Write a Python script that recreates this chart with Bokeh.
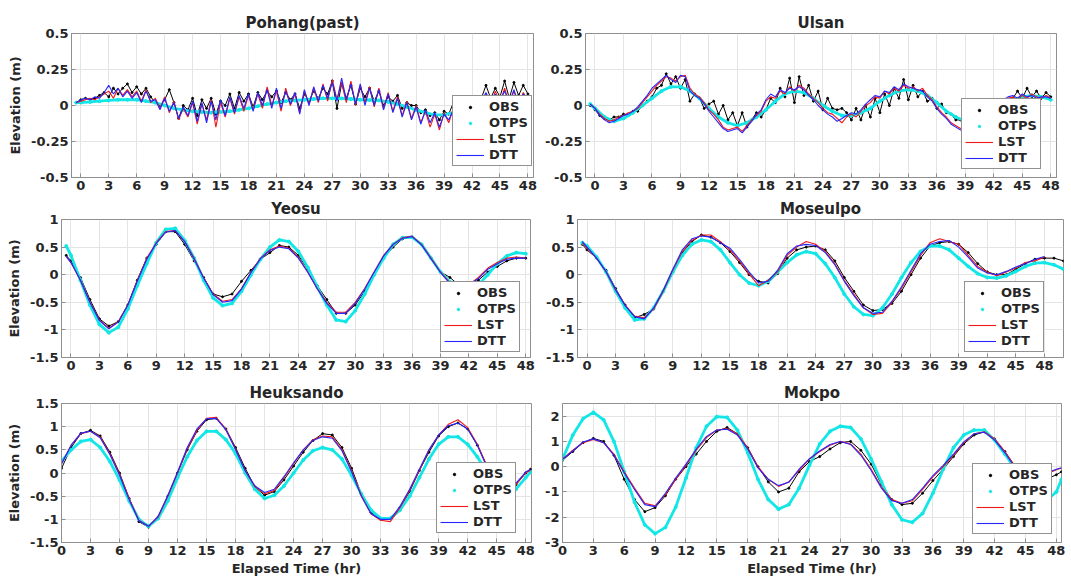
import numpy as np
from bokeh.plotting import figure
from bokeh.models import Range1d, FixedTicker, Legend, LegendItem, CustomJSTickFormatter
from bokeh.layouts import column, row
from bokeh.embed import file_html
from bokeh.resources import INLINE

# ---------------- time axes (hours) ----------------
t_half = [-0.5 + 0.5 * i for i in range(98)]          # -0.5 .. 48 by 0.5
t_hour_neg = [-0.5] + list(range(49))                  # -0.5, 0 .. 48
t_hour_neg50 = [-0.5] + list(range(51))                # -0.5, 0 .. 50
t_hour_end = list(range(49)) + [48.5]                  # 0 .. 48, 48.5

x_ticks = list(range(0, 49, 3))

# ---------------- Pohang(past) ----------------
pohang_obs = [0.02, 0.04, 0.05, 0.04, 0.05, 0.07, 0.09, 0.06, 0.12, 0.08,
              0.12, 0.15, 0.09, 0.13, 0.08, 0.12, 0.06, 0.02, 0.00, 0.04,
              0.11, 0.02, -0.09, 0.00, -0.03, 0.05, -0.07, 0.04, -0.02, 0.05,
              -0.06, 0.03, 0.00, 0.08, -0.02, 0.09, 0.03, 0.08, -0.01, 0.09,
              0.04, 0.10, 0.06, 0.10, 0.02, 0.09, 0.04, 0.08, -0.02, 0.08,
              0.03, 0.10, 0.05, 0.12, 0.08, 0.17, -0.02, 0.15, 0.05, 0.14,
              0.01, 0.12, 0.06, 0.12, 0.03, 0.10, 0.00, 0.06, 0.03, 0.07,
              -0.02, 0.02, 0.00, 0.00, -0.05, -0.03, -0.07, -0.05, -0.10, -0.04,
              -0.06, 0.02, 0.04, 0.03, 0.05, 0.04, 0.06, 0.05, 0.14, 0.05,
              0.12, 0.06, 0.17, 0.05, 0.16, 0.07, 0.14, 0.08]
pohang_otps = [0.02, 0.02, 0.025, 0.03, 0.035, 0.04, 0.04, 0.04, 0.03, 0.02,
               0.0, -0.02, -0.03, -0.04, -0.045, -0.05, -0.045, -0.04, -0.03, -0.02,
               -0.005, 0.01, 0.02, 0.03, 0.035, 0.04, 0.045, 0.05, 0.05, 0.05,
               0.045, 0.04, 0.038, 0.035, 0.025, 0.01, -0.01, -0.03, -0.05, -0.065,
               -0.065, -0.05, -0.03, -0.01, 0.01, 0.025, 0.035, 0.04, 0.04, 0.04]
pohang_lst = [0.02, 0.03, 0.04, 0.05, 0.04, 0.06, 0.08, 0.10, 0.05, 0.12,
              0.07, 0.11, 0.06, 0.10, 0.03, 0.11, 0.02, 0.05, -0.02, 0.06,
              -0.05, 0.03, -0.10, -0.02, -0.08, 0.02, -0.13, 0.01, -0.10, 0.04,
              -0.15, 0.02, -0.08, 0.05, -0.06, 0.06, -0.04, 0.07, -0.03, 0.08,
              -0.02, 0.13, 0.00, 0.10, -0.04, 0.12, 0.00, 0.08, -0.05, 0.10,
              0.01, 0.12, 0.02, 0.15, 0.03, 0.18, 0.04, 0.16, 0.02, 0.17,
              0.00, 0.14, 0.02, 0.13, -0.01, 0.12, -0.02, 0.09, -0.04, 0.06,
              -0.07, 0.03, -0.09, 0.00, -0.12, -0.04, -0.15, -0.06, -0.17, -0.05,
              -0.12, -0.02, 0.02, 0.00, 0.05, 0.01, 0.06, 0.02, 0.08, 0.00,
              0.10, 0.02, 0.12, 0.01, 0.10, 0.00, 0.09, 0.04]
pohang_dtt = [0.02, 0.04, 0.05, 0.04, 0.06, 0.05, 0.09, 0.14, 0.08, 0.12,
              0.06, 0.10, 0.05, 0.09, 0.02, 0.10, 0.03, 0.04, -0.03, 0.05,
              -0.04, 0.02, -0.09, -0.01, -0.07, 0.03, -0.11, 0.02, -0.12, 0.03,
              -0.10, 0.04, -0.07, 0.06, -0.05, 0.07, -0.02, 0.08, -0.04, 0.09,
              0.00, 0.11, -0.02, 0.12, -0.02, 0.10, 0.01, 0.09, -0.06, 0.11,
              0.00, 0.13, 0.03, 0.14, 0.05, 0.16, 0.03, 0.19, 0.04, 0.15,
              0.01, 0.15, 0.00, 0.12, 0.00, 0.11, -0.03, 0.08, -0.05, 0.05,
              -0.08, 0.02, -0.10, -0.01, -0.13, -0.03, -0.12, -0.05, -0.15, -0.06,
              -0.10, -0.03, 0.03, 0.01, 0.06, 0.00, 0.07, 0.03, 0.09, 0.02,
              0.08, 0.03, 0.10, 0.02, 0.11, 0.01, 0.08, 0.05]

# ---------------- Ulsan ----------------
ulsan_obs = [0.00, -0.03, -0.07, -0.09, -0.10, -0.08, -0.08, -0.06, -0.07, -0.04,
             -0.04, 0.00, 0.03, 0.06, 0.12, 0.14, 0.22, 0.15, 0.20, 0.12,
             0.18, 0.03, 0.08, 0.05, -0.02, 0.01, 0.03, -0.06, 0.00, -0.10,
             -0.05, -0.14, -0.05, -0.15, -0.10, -0.05, -0.08, -0.03, 0.05, 0.02,
             0.12, 0.06, 0.19, 0.02, 0.20, 0.07, 0.14, 0.03, 0.10, -0.03,
             0.05, -0.02, -0.03, -0.02, -0.05, -0.10, -0.02, -0.10, 0.00, -0.08,
             0.05, -0.05, 0.08, 0.00, 0.12, 0.05, 0.18, 0.04, 0.14, 0.06,
             0.10, 0.03, 0.05, -0.02, 0.01, -0.05, -0.06, -0.10, -0.10, -0.14,
             -0.15, -0.10, -0.08, -0.05, -0.04, -0.02, 0.00, 0.02, 0.04, 0.05,
             0.10, 0.05, 0.12, 0.06, 0.10, 0.05, 0.09, 0.06]
ulsan_otps = [0.01, -0.02, -0.08, -0.11, -0.09, -0.05, 0.00, 0.05, 0.10, 0.13,
              0.13, 0.10, 0.05, -0.02, -0.08, -0.12, -0.14, -0.12, -0.08, -0.03,
              0.03, 0.08, 0.10, 0.09, 0.05, 0.00, -0.04, -0.07, -0.07, -0.05,
              -0.02, 0.03, 0.07, 0.10, 0.11, 0.10, 0.07, 0.02, -0.04, -0.08,
              -0.11, -0.10, -0.07, -0.03, 0.01, 0.04, 0.06, 0.07, 0.06, 0.04]
ulsan_lst = [0.01, -0.02, -0.06, -0.09, -0.11, -0.10, -0.08, -0.07, -0.05, -0.04,
             -0.02, 0.02, 0.06, 0.10, 0.14, 0.17, 0.20, 0.19, 0.17, 0.20,
             0.21, 0.12, 0.08, 0.06, 0.02, -0.03, -0.06, -0.10, -0.15, -0.17,
             -0.16, -0.15, -0.18, -0.14, -0.10, -0.07, -0.04, 0.03, 0.06, 0.05,
             0.10, 0.08, 0.13, 0.10, 0.14, 0.12, 0.08, 0.05, 0.02, -0.02,
             -0.05, -0.06, -0.09, -0.12, -0.08, -0.06, -0.08, -0.04, 0.00, 0.02,
             0.06, 0.05, 0.10, 0.08, 0.12, 0.10, 0.14, 0.12, 0.13, 0.10,
             0.12, 0.07, 0.04, -0.01, -0.05, -0.08, -0.12, -0.14, -0.16, -0.17,
             -0.18, -0.13, -0.10, -0.07, -0.04, -0.01, 0.02, 0.03, 0.05, 0.06,
             0.04, 0.07, 0.05, 0.08, 0.06, 0.05, 0.07, 0.05]
ulsan_dtt = [0.01, -0.02, -0.07, -0.10, -0.12, -0.11, -0.09, -0.07, -0.06, -0.04,
             -0.01, 0.03, 0.07, 0.12, 0.15, 0.18, 0.21, 0.18, 0.16, 0.21,
             0.20, 0.10, 0.07, 0.05, 0.01, -0.04, -0.08, -0.12, -0.16, -0.18,
             -0.17, -0.16, -0.19, -0.15, -0.11, -0.06, -0.03, 0.04, 0.08, 0.06,
             0.11, 0.09, 0.12, 0.11, 0.13, 0.11, 0.07, 0.04, 0.00, -0.03,
             -0.06, -0.08, -0.11, -0.09, -0.07, -0.05, -0.06, -0.03, 0.01, 0.04,
             0.07, 0.06, 0.10, 0.09, 0.13, 0.11, 0.15, 0.13, 0.12, 0.11,
             0.10, 0.06, 0.03, -0.02, -0.06, -0.09, -0.13, -0.15, -0.17, -0.18,
             -0.19, -0.14, -0.10, -0.06, -0.03, 0.00, 0.03, 0.04, 0.06, 0.07,
             0.05, 0.08, 0.06, 0.07, 0.05, 0.06, 0.06, 0.05]

# ---------------- Yeosu ----------------
yeosu_obs = [0.35, 0.25, -0.05, -0.45, -0.8, -0.93, -0.85, -0.55, -0.1, 0.3,
             0.55, 0.78, 0.78, 0.55, 0.25, -0.05, -0.35, -0.4, -0.35, -0.12,
             0.08, 0.28, 0.4, 0.53, 0.5, 0.35, 0.1, -0.2, -0.45, -0.7,
             -0.7, -0.55, -0.3, 0.0, 0.3, 0.5, 0.65, 0.68, 0.55, 0.3,
             0.05, -0.05, -0.2, -0.2, -0.1, 0.05, 0.15, 0.25, 0.3, 0.3]
yeosu_otps = [0.52, 0.35, -0.1, -0.55, -0.9, -1.05, -0.95, -0.62, -0.2, 0.2,
              0.58, 0.82, 0.84, 0.62, 0.3, -0.1, -0.42, -0.56, -0.52, -0.3,
              0.0, 0.28, 0.5, 0.63, 0.6, 0.42, 0.13, -0.22, -0.55, -0.82,
              -0.85, -0.65, -0.35, 0.0, 0.3, 0.55, 0.67, 0.68, 0.55, 0.3,
              0.05, -0.13, -0.25, -0.28, -0.18, 0.0, 0.2, 0.34, 0.4, 0.38]
yeosu_lst = [0.33, 0.22, -0.1, -0.5, -0.82, -0.97, -0.85, -0.55, -0.1, 0.3,
             0.58, 0.78, 0.8, 0.6, 0.3, -0.05, -0.35, -0.48, -0.45, -0.25,
             0.05, 0.3, 0.45, 0.52, 0.48, 0.32, 0.05, -0.25, -0.5, -0.68,
             -0.68, -0.5, -0.25, 0.05, 0.35, 0.55, 0.67, 0.7, 0.55, 0.3,
             0.05, -0.15, -0.22, -0.18, -0.05, 0.12, 0.22, 0.3, 0.32, 0.3]
yeosu_dtt = [0.33, 0.22, -0.1, -0.5, -0.83, -0.98, -0.86, -0.55, -0.12, 0.28,
             0.57, 0.77, 0.8, 0.6, 0.28, -0.06, -0.36, -0.5, -0.47, -0.26,
             0.04, 0.29, 0.44, 0.5, 0.47, 0.3, 0.04, -0.26, -0.52, -0.7,
             -0.7, -0.52, -0.26, 0.05, 0.34, 0.55, 0.66, 0.69, 0.54, 0.29,
             0.04, -0.16, -0.23, -0.19, -0.07, 0.1, 0.2, 0.28, 0.3, 0.3]

# ---------------- Moseulpo ----------------
moseulpo_obs = [0.55, 0.45, 0.3, 0.08, -0.25, -0.55, -0.78, -0.72, -0.62, -0.3,
                0.05, 0.4, 0.6, 0.72, 0.68, 0.58, 0.42, 0.22, 0.0, -0.12,
                -0.15, 0.02, 0.3, 0.45, 0.5, 0.52, 0.45, 0.25, -0.05, -0.3,
                -0.55, -0.65, -0.63, -0.52, -0.3, 0.0, 0.3, 0.52, 0.58, 0.6,
                0.55, 0.4, 0.2, 0.05, 0.0, 0.0, 0.1, 0.2, 0.28, 0.3,
                0.3, 0.25]
moseulpo_otps = [0.58, 0.52, 0.32, 0.05, -0.3, -0.6, -0.82, -0.8, -0.6, -0.3,
                 0.05, 0.35, 0.55, 0.63, 0.6, 0.45, 0.22, 0.0, -0.15, -0.2,
                 -0.12, 0.05, 0.22, 0.36, 0.42, 0.38, 0.2, -0.05, -0.35, -0.58,
                 -0.72, -0.74, -0.6, -0.35, -0.05, 0.22, 0.42, 0.52, 0.52, 0.45,
                 0.3, 0.15, 0.02, -0.05, -0.06, -0.02, 0.06, 0.15, 0.21, 0.22,
                 0.18, 0.1]
moseulpo_lst = [0.58, 0.48, 0.3, 0.05, -0.28, -0.55, -0.75, -0.78, -0.62, -0.3,
                0.08, 0.42, 0.62, 0.72, 0.72, 0.6, 0.45, 0.25, 0.02, -0.2,
                -0.1, 0.05, 0.35, 0.5, 0.6, 0.55, 0.42, 0.2, -0.1, -0.35,
                -0.6, -0.72, -0.7, -0.5, -0.25, 0.05, 0.35, 0.58, 0.65, 0.6,
                0.55, 0.35, 0.15, 0.05, -0.02, 0.05, 0.12, 0.22, 0.25, 0.32]
moseulpo_dtt = [0.6, 0.5, 0.3, 0.06, -0.27, -0.56, -0.76, -0.8, -0.6, -0.28,
                0.1, 0.45, 0.65, 0.7, 0.68, 0.58, 0.48, 0.28, 0.05, -0.15,
                -0.12, 0.08, 0.38, 0.52, 0.55, 0.53, 0.4, 0.18, -0.12, -0.38,
                -0.6, -0.7, -0.68, -0.48, -0.22, 0.08, 0.38, 0.55, 0.6, 0.62,
                0.5, 0.32, 0.12, 0.03, 0.0, 0.06, 0.14, 0.2, 0.28, 0.33]

# ---------------- Heuksando ----------------
heuksando_obs = [0.1, 0.55, 0.85, 0.92, 0.8, 0.45, 0.0, -0.55, -1.05, -1.17,
                 -0.95, -0.5, 0.0, 0.5, 0.9, 1.15, 1.18, 0.95, 0.55, 0.1,
                 -0.3, -0.48, -0.4, -0.15, 0.15, 0.45, 0.7, 0.85, 0.82, 0.55,
                 0.1, -0.45, -0.85, -1.0, -0.98, -0.75, -0.4, 0.05, 0.45, 0.8,
                 1.0, 1.08, 0.95, 0.6, 0.15, -0.2, -0.4, -0.25, 0.0, 0.08]
heuksando_otps = [0.25, 0.5, 0.68, 0.72, 0.55, 0.25, -0.15, -0.6, -1.0, -1.15,
                  -0.98, -0.6, -0.1, 0.35, 0.7, 0.9, 0.9, 0.72, 0.42, 0.0,
                  -0.35, -0.55, -0.48, -0.28, 0.0, 0.28, 0.48, 0.55, 0.5, 0.3,
                  -0.05, -0.45, -0.8, -0.98, -0.98, -0.8, -0.5, -0.1, 0.3, 0.62,
                  0.78, 0.78, 0.62, 0.35, 0.0, -0.35, -0.5, -0.35, -0.1, 0.02]
heuksando_lst = [0.2, 0.6, 0.85, 0.9, 0.78, 0.42, -0.02, -0.55, -1.02, -1.15,
                 -0.95, -0.5, 0.0, 0.52, 0.92, 1.18, 1.2, 0.95, 0.52, 0.05,
                 -0.3, -0.45, -0.38, -0.1, 0.2, 0.5, 0.72, 0.8, 0.78, 0.5,
                 0.05, -0.48, -0.88, -1.02, -1.05, -0.75, -0.38, 0.05, 0.5, 0.82,
                 1.05, 1.15, 0.98, 0.62, 0.15, -0.2, -0.38, -0.25, 0.0, 0.06]
heuksando_dtt = [0.2, 0.6, 0.86, 0.9, 0.76, 0.4, -0.05, -0.58, -1.03, -1.15,
                 -0.93, -0.48, 0.02, 0.55, 0.95, 1.17, 1.18, 0.93, 0.5, 0.05,
                 -0.28, -0.42, -0.35, -0.08, 0.22, 0.5, 0.7, 0.78, 0.75, 0.48,
                 0.02, -0.5, -0.88, -1.0, -1.0, -0.72, -0.35, 0.08, 0.5, 0.82,
                 1.02, 1.08, 0.95, 0.6, 0.12, -0.22, -0.38, -0.22, 0.02, 0.08]

# ---------------- Mokpo ----------------
mokpo_obs = [0.25, 0.6, 0.95, 1.12, 1.0, 0.45, -0.5, -1.3, -1.78, -1.62,
             -1.15, -0.5, 0.0, 0.5, 1.0, 1.4, 1.55, 1.3, 0.75, 0.0,
             -0.6, -1.0, -0.85, -0.2, 0.2, 0.4, 0.7, 0.95, 1.0, 0.65,
             0.1, -0.7, -1.3, -1.5, -1.45, -1.05, -0.55, -0.1, 0.4, 0.9,
             1.25, 1.38, 1.1, 0.6, 0.0, -0.5, -0.7, -0.5, -0.32, -0.2]
mokpo_otps = [0.3, 1.25, 1.9, 2.15, 1.85, 1.0, -0.2, -1.4, -2.3, -2.65,
              -2.4, -1.6, -0.45, 0.75, 1.6, 1.98, 1.95, 1.45, 0.55, -0.5,
              -1.3, -1.68, -1.5, -0.85, 0.05, 0.9, 1.4, 1.6, 1.55, 1.1,
              0.3, -0.6, -1.5, -2.1, -2.2, -1.85, -1.05, -0.1, 0.75, 1.25,
              1.45, 1.45, 1.05, 0.5, -0.1, -0.8, -1.3, -1.35, -1.0, -0.5]
mokpo_lst = [0.3, 0.65, 0.95, 1.08, 0.95, 0.5, -0.2, -0.85, -1.45, -1.55,
             -1.1, -0.5, 0.05, 0.65, 1.15, 1.45, 1.5, 1.3, 0.75, 0.0,
             -0.5, -0.78, -0.6, -0.15, 0.3, 0.6, 0.85, 1.0, 0.9, 0.5,
             -0.1, -0.8, -1.3, -1.45, -1.35, -0.9, -0.4, 0.0, 0.45, 0.95,
             1.3, 1.38, 1.1, 0.6, 0.0, -0.45, -0.55, -0.3, -0.12, -0.05]
mokpo_dtt = [0.3, 0.62, 0.98, 1.1, 0.95, 0.45, -0.25, -0.9, -1.5, -1.58,
             -1.05, -0.45, 0.1, 0.7, 1.2, 1.45, 1.48, 1.25, 0.7, -0.05,
             -0.5, -0.75, -0.62, -0.1, 0.32, 0.62, 0.88, 1.0, 0.88, 0.45,
             -0.15, -0.85, -1.35, -1.45, -1.3, -0.85, -0.35, 0.05, 0.5, 0.98,
             1.3, 1.36, 1.05, 0.55, -0.05, -0.45, -0.5, -0.25, -0.1, -0.04]

# ---------------- styling ----------------
FONT = "DejaVu Sans"
TXT = "#262626"
FRAME = "#8f8f8f"
GRID = "#e4e4e4"
C_OBS = "#000000"
C_OTPS = "#12e6e6"
C_LST = "#f01818"
C_DTT = "#2626ff"
FMT = "return tick.toString();"


def xy(t, v):
    n = min(len(t), len(v))
    return list(t[:n]), list(v[:n])


def panel(title, xr, yr, yticks, size, borders, obs, otps, lst, dtt,
          legend_right, legend_bottom, ylabel=False, xlabel=False):
    w, h = size
    left, right, top, bottom = borders
    p = figure(width=w, height=h, output_backend="svg", toolbar_location=None,
               x_range=Range1d(*xr), y_range=Range1d(*yr),
               min_border_left=left, min_border_right=right,
               min_border_top=top, min_border_bottom=bottom)
    p.title.text = title
    p.title.align = "center"
    p.title.text_font = FONT
    p.title.text_font_size = "15px"
    p.title.text_font_style = "bold"
    p.title.text_color = TXT
    p.title.standoff = 3
    p.title.offset = 0
    p.outline_line_color = FRAME
    p.outline_line_width = 1
    p.background_fill_color = "white"
    p.border_fill_color = "white"

    for ax in (p.xaxis[0], p.yaxis[0]):
        ax.major_label_text_font = FONT
        ax.major_label_text_font_size = "13px"
        ax.major_label_text_font_style = "bold"
        ax.major_label_text_color = TXT
        ax.major_tick_in = 4
        ax.major_tick_out = 0
        ax.major_tick_line_color = FRAME
        ax.minor_tick_line_color = None
        ax.axis_line_color = FRAME
        ax.major_label_standoff = 3
        ax.formatter = CustomJSTickFormatter(code=FMT)
        ax.axis_label_text_font = FONT
        ax.axis_label_text_font_size = "13px"
        ax.axis_label_text_font_style = "bold"
        ax.axis_label_text_color = TXT
    p.xaxis[0].ticker = FixedTicker(ticks=x_ticks)
    p.yaxis[0].ticker = FixedTicker(ticks=yticks)
    if ylabel:
        p.yaxis[0].axis_label = "Elevation (m)"
        p.yaxis[0].axis_label_standoff = 5
    if xlabel:
        p.xaxis[0].axis_label = "Elapsed Time (hr)"
        p.xaxis[0].axis_label_standoff = 3
    p.xgrid.grid_line_color = GRID
    p.ygrid.grid_line_color = GRID
    p.xgrid.ticker = FixedTicker(ticks=x_ticks)
    p.ygrid.ticker = FixedTicker(ticks=yticks)

    ox, oy = xy(*obs)
    p.line(ox, oy, line_color=C_OBS, line_width=1.0)
    r_obs = p.scatter(ox, oy, size=2, color=C_OBS)
    tx, ty = xy(*otps)
    p.line(tx, ty, line_color=C_OTPS, line_width=2.8)
    r_otps = p.scatter(tx, ty, size=3, color=C_OTPS)
    lx, ly = xy(*lst)
    r_lst = p.line(lx, ly, line_color=C_LST, line_width=1.1)
    dx, dy = xy(*dtt)
    r_dtt = p.line(dx, dy, line_color=C_DTT, line_width=1.1)

    leg = Legend(items=[LegendItem(label="OBS", renderers=[r_obs]),
                        LegendItem(label="OTPS", renderers=[r_otps]),
                        LegendItem(label="LST", renderers=[r_lst]),
                        LegendItem(label="DTT", renderers=[r_dtt])])
    leg.label_text_font = FONT
    leg.label_text_font_size = "13px"
    leg.label_text_font_style = "bold"
    leg.label_text_color = TXT
    leg.label_height = 12
    leg.glyph_height = 6
    leg.glyph_width = 28
    leg.spacing = 1
    leg.padding = 3
    leg.margin = 0
    leg.label_standoff = 5
    leg.border_line_color = TXT
    leg.border_line_width = 1
    leg.background_fill_color = "white"
    leg.background_fill_alpha = 1.0
    fw = w - left - right
    leg_w = 76
    leg.location = (fw - legend_right - leg_w, legend_bottom)
    p.add_layout(leg)
    return p


p1 = panel("Pohang(past)", (-1, 48.6), (-0.5, 0.5), [-0.5, -0.25, 0, 0.25, 0.5],
           (540, 196), (71, 7, 31, 19),
           (t_half, pohang_obs), (t_hour_neg, pohang_otps),
           (t_half, pohang_lst), (t_half, pohang_dtt),
           5, 11, ylabel=True)
p2 = panel("Ulsan", (-1, 48.6), (-0.5, 0.5), [-0.5, -0.25, 0, 0.25, 0.5],
           (531, 196), (45, 15, 33, 19),
           (t_half, ulsan_obs), (t_hour_neg, ulsan_otps),
           (t_half, ulsan_lst), (t_half, ulsan_dtt),
           19, 8)
p3 = panel("Yeosu", (-1, 48.5), (-1.5, 1), [-1.5, -1, -0.5, 0, 0.5, 1],
           (540, 184), (61, 10, 22, 23),
           (t_hour_neg, yeosu_obs), (t_hour_neg, yeosu_otps),
           (t_hour_neg, yeosu_lst), (t_hour_neg, yeosu_dtt),
           14, 5, ylabel=True)
p4 = panel("Moseulpo", (-1, 50), (-1.5, 1), [-1.5, -1, -0.5, 0, 0.5, 1],
           (531, 184), (37, 8, 23, 23),
           (t_hour_neg50, moseulpo_obs), (t_hour_neg50, moseulpo_otps),
           (t_hour_neg, moseulpo_lst), (t_hour_neg, moseulpo_dtt),
           23, 5)
p5 = panel("Heuksando", (0, 48.6), (-1.5, 1.5), [-1.5, -1, -0.5, 0, 0.5, 1, 1.5],
           (540, 201), (61, 9, 20, 38),
           (t_hour_end, heuksando_obs), (t_hour_end, heuksando_otps),
           (t_hour_end, heuksando_lst), (t_hour_end, heuksando_dtt),
           19, 9, ylabel=True, xlabel=True)
p6 = panel("Mokpo", (0, 48.5), (-3, 2.5), [-3, -2, -1, 0, 1, 2],
           (531, 201), (22, 10, 20, 39),
           (t_hour_end, mokpo_obs), (t_hour_end, mokpo_otps),
           (t_hour_end, mokpo_lst), (t_hour_end, mokpo_dtt),
           13, 8, xlabel=True)

layout = column(row(p1, p2), row(p3, p4), row(p5, p6))
open("out.html", "w").write(file_html(layout, INLINE))
